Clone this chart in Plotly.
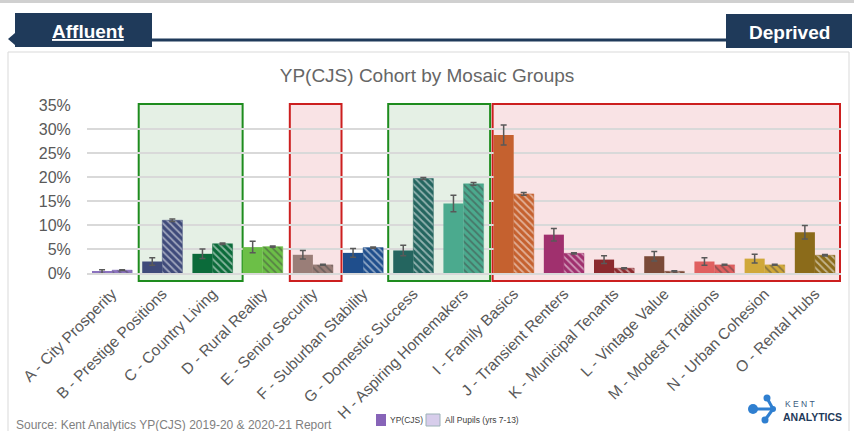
import plotly.graph_objects as go

# Mosaic groups, share of cohort (%)
groups = ["A - City Prosperity", "B - Prestige Positions", "C - Country Living",
          "D - Rural Reality", "E - Senior Security", "F - Suburban Stability",
          "G - Domestic Success", "H - Aspiring Homemakers", "I - Family Basics",
          "J - Transient Renters", "K - Municipal Tenants", "L - Vintage Value",
          "M - Modest Traditions", "N - Urban Cohesion", "O - Rental Hubs"]
yp_cjs = [0.3, 2.4, 4.0, 5.4, 3.8, 4.2, 4.7, 14.5, 28.8, 8.0, 2.8, 3.5, 2.4, 3.0, 8.5]
yp_err = [0.4, 0.8, 1.0, 1.2, 0.9, 0.9, 1.1, 1.7, 2.1, 1.3, 0.8, 1.0, 0.8, 0.9, 1.4]
all_pupils = [0.6, 11.0, 6.1, 5.5, 1.7, 5.3, 19.7, 18.6, 16.5, 4.1, 1.0, 0.35, 1.7, 1.7, 3.7]
ap_err = [0.1, 0.25, 0.15, 0.15, 0.1, 0.15, 0.2, 0.3, 0.3, 0.15, 0.1, 0.1, 0.1, 0.1, 0.15]
colours = ["#8B72BE", "#3F4A7A", "#0B6B3A", "#6CBF47", "#9A7E78", "#1F4E8C", "#24655F",
           "#4BAA8E", "#C5612F", "#A0306E", "#8C2A2E", "#7B4A38", "#E06060", "#D0A83A",
           "#8B6B1A"]

# highlighted group ranges (category index units, A = 0): (x0, x1, kind)
boxes = [(0.53, 2.6, "green"), (3.54, 4.57, "red"), (5.5, 7.53, "green"), (7.58, 14.5, "red")]

W, H = 854, 431
L, R, T, B = 87, 841, 105, 273
navy = "#1F3A5A"


def px_x(x):
    return (x - L) / (R - L)


def px_y(y):
    return (B - y) / (B - T)


def note(text, x, y, size, color, xanchor="center", family="Liberation Sans"):
    return dict(text=text, x=px_x(x), y=px_y(y), xref="paper", yref="paper",
                xanchor=xanchor, yanchor="middle", showarrow=False,
                font=dict(size=size, color=color, family=family))


def box(x0, y0, x1, y1, fill, line_color=None, width=0, layer="above"):
    return dict(type="rect", xref="paper", yref="paper", x0=px_x(x0), x1=px_x(x1),
                y0=px_y(y1), y1=px_y(y0), fillcolor=fill, layer=layer,
                line=dict(color=line_color or fill, width=width))


fig = go.Figure()
fig.add_trace(go.Bar(
    name="YP(CJS)", x=groups, y=yp_cjs,
    marker=dict(color=colours, line=dict(width=0)),
    error_y=dict(type="data", array=yp_err, color="#595959", thickness=1.5, width=3),
))
fig.add_trace(go.Bar(
    name="All Pupils (yrs 7-13)", x=groups, y=all_pupils,
    marker=dict(color=colours, line=dict(width=0.5, color=colours),
                pattern=dict(shape="\\", fgcolor="white", bgcolor=colours,
                             size=5, solidity=0.35)),
    error_y=dict(type="data", array=ap_err, color="#595959", thickness=1.5, width=3),
))

shapes = []
for x0, x1, kind in boxes:
    if kind == "green":
        fill, line = "rgba(40,130,40,0.12)", "#1E8C1E"
    else:
        fill, line = "rgba(215,60,70,0.14)", "#CC1F1F"
    shapes.append(dict(type="rect", xref="x", yref="paper", x0=x0, x1=x1,
                       y0=px_y(281), y1=px_y(104), fillcolor=fill,
                       line=dict(color=line, width=2), layer="below"))

# panel + header
shapes.append(box(8, 52, 849, 445, "rgba(0,0,0,0)", "#D9D9D9", 1, "below"))
shapes.append(box(0, 0, 854, 3, "#D0D0D0"))
shapes.append(dict(type="line", xref="paper", yref="paper", x0=px_x(150), x1=px_x(730),
                   y0=px_y(40), y1=px_y(40), line=dict(color=navy, width=3)))
shapes.append(box(15, 13, 152, 47, navy))
shapes.append(box(726, 14, 852, 48, navy))
shapes.append(dict(type="path", xref="paper", yref="paper",
                   path="M %f,%f L %f,%f L %f,%f Z" % (px_x(8), px_y(39), px_x(15), px_y(33),
                                                      px_x(15), px_y(45)),
                   fillcolor=navy, line=dict(width=0)))

# legend swatches
shapes.append(box(376, 414, 386, 426, "#8764B8"))
shapes.append(box(426, 414, 440, 426, "#D7CDEB", "#9DB2B8", 1))

# logo
logo_blue = "#2F7FD0"
for xa, ya, xb, yb in [(767, 398, 773, 409), (765, 420, 773, 409), (753, 409, 773, 409)]:
    shapes.append(dict(type="line", xref="paper", yref="paper", x0=px_x(xa), x1=px_x(xb),
                       y0=px_y(ya), y1=px_y(yb), line=dict(color=logo_blue, width=3)))
for cx, cy, r in [(753, 409, 5), (767, 398, 3.5), (765, 420, 3.5), (773, 409, 3)]:
    shapes.append(dict(type="circle", xref="paper", yref="paper", x0=px_x(cx - r),
                       x1=px_x(cx + r), y0=px_y(cy + r), y1=px_y(cy - r),
                       fillcolor=logo_blue, line=dict(width=0)))

annotations = [
    note("<b><u>Affluent</u></b>", 88, 31, 19, "white"),
    note("<b>Deprived</b>", 789, 32, 19, "white"),
    note("Source: Kent Analytics YP(CJS) 2019-20 & 2020-21 Report", 14, 425, 12,
         "#7F7F7F", "left"),
    note("YP(CJS)", 388, 420, 8.5, "#404040", "left"),
    note("All Pupils (yrs 7-13)", 443, 420, 8.5, "#404040", "left"),
    note("K E N T", 783, 404, 8.5, "#3A5A80", "left"),
    note("<b>ANALYTICS</b>", 781, 417, 10.5, navy, "left"),
]

fig.update_layout(
    width=W, height=H,
    margin=dict(l=L, r=W - R, t=T, b=H - B, autoexpand=False),
    paper_bgcolor="white", plot_bgcolor="rgba(0,0,0,0)",
    barmode="group", bargap=0.2, bargroupgap=0,
    title=dict(text="YP(CJS) Cohort by Mosaic Groups", x=0.5, xref="container",
               xanchor="center", y=1 - 75 / H, yanchor="middle",
               font=dict(size=19, color="#666666", family="Liberation Sans")),
    font=dict(family="Liberation Sans", color="#595959"),
    showlegend=False,
    shapes=shapes, annotations=annotations,
)
fig.update_yaxes(range=[0, 35.05], dtick=5, ticksuffix="%", showgrid=True,
                 gridcolor="#D9D9D9", gridwidth=1.5, zeroline=False, automargin=False,
                 ticks="outside", ticklen=12, tickcolor="rgba(0,0,0,0)",
                 tickfont=dict(size=16, color="#595959"))
fig.update_xaxes(tickangle=-45, tickfont=dict(size=15.5, color="#595959"), automargin=False,
                 ticks="outside", ticklen=4, tickcolor="rgba(0,0,0,0)",
                 showline=True, linecolor="#D9D9D9", linewidth=1.5)

fig.write_html("out.html", config={"displayModeBar": False},
               post_script="document.body.style.margin='0';")
